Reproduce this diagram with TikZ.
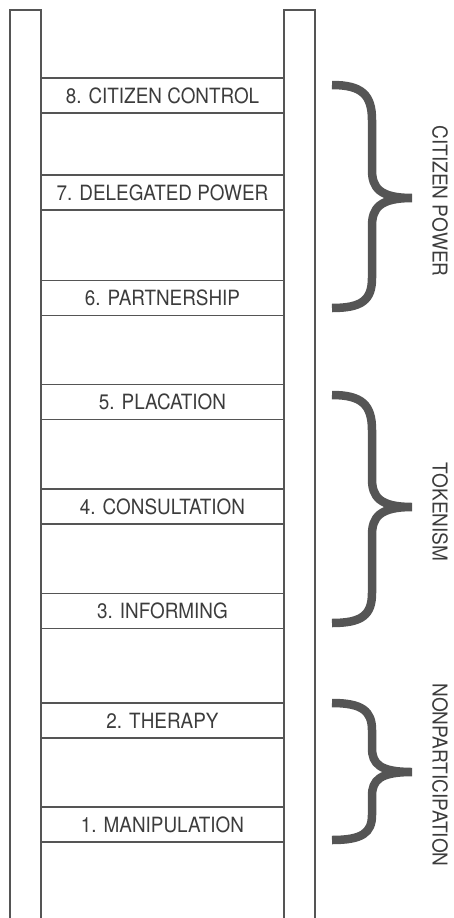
\documentclass[tikz,border=0pt]{standalone}
\usepackage{fontspec}
\setmainfont{TeX Gyre Heros}
\newfontfamily\rungfont{TeX Gyre Heros}[FakeStretch=0.9]
\newfontfamily\groupfont{TeX Gyre Heros}[FakeStretch=0.93]
\definecolor{railgray}{RGB}{85,85,85}
\definecolor{textgray}{RGB}{60,60,60}
\definecolor{bracegray}{RGB}{85,85,85}
\tikzset{
  rung/.style={draw=railgray, line width=1.3pt, fill=white, minimum width=243pt, minimum height=35pt, inner sep=0pt, text=textgray, font=\rungfont\fontsize{21}{21}\selectfont},
  rail/.style={draw=railgray, line width=1.3pt},
  bigbrace/.style={draw=bracegray, line width=8.5pt},
  grouplabel/.style={rotate=-90, inner sep=0pt, text=textgray, font=\groupfont\fontsize{20.5}{20.5}\selectfont}
}
\begin{document}
\begin{tikzpicture}[x=1pt,y=1pt,yscale=-1]
\useasboundingbox (0,0) rectangle (453,918);
% the two rails
\draw [rail] (10,918) -- (10,10) -- (41,10) -- (41,918);
\draw [rail] (284,918) -- (284,10) -- (315,10) -- (315,918);
% rungs
\node (r8) [rung] at (162.5,95.5) {8. CITIZEN CONTROL};
\node (r7) [rung] at (162.5,192.5) {7. DELEGATED POWER};
\node (r6) [rung] at (162.5,298) {6. PARTNERSHIP};
\node (r5) [rung] at (162.5,402) {5. PLACATION};
\node (r4) [rung] at (162.5,506.5) {4. CONSULTATION};
\node (r3) [rung] at (162.5,611) {3. INFORMING};
\node (r2) [rung] at (162.5,720.5) {2. THERAPY};
\node (r1) [rung] at (162.5,824.5) {1. MANIPULATION};
% braces
\draw [bigbrace] (332,85) .. controls (362,85) and (372,95) .. (372,120) -- (372,170) .. controls (372,188) and (380,198) .. (412,198) .. controls (380,198) and (372,208) .. (372,226) -- (372,278) .. controls (372,300) and (362,308) .. (332,308);
\draw [bigbrace] (332,395) .. controls (362,395) and (372,405) .. (372,430) -- (372,479) .. controls (372,497) and (380,507) .. (412,507) .. controls (380,507) and (372,517) .. (372,535) -- (372,593) .. controls (372,615) and (362,623) .. (332,623);
\draw [bigbrace] (332,703) .. controls (362,703) and (372,711) .. (372,730) -- (372,748) .. controls (372,764) and (380,772) .. (412,772) .. controls (380,772) and (372,780) .. (372,796) -- (372,815) .. controls (372,833) and (362,840) .. (332,840);
% group names
\node (gpower) [grouplabel] at (440,201) {CITIZEN POWER};
\node (gtoken) [grouplabel] at (440,512) {TOKENISM};
\node (gnon) [grouplabel] at (440,775) {NONPARTICIPATION};
\end{tikzpicture}
\end{document}
